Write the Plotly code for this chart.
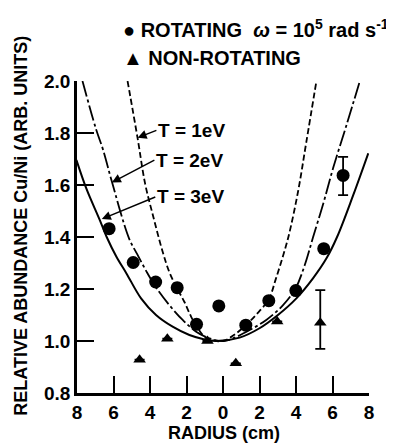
import plotly.graph_objects as go

# ---- data ----
rot_r = [-6.24, -4.92, -3.69, -2.51, -1.45, -0.23, 1.25, 2.51, 3.99, 5.52, 6.58]
rot_v = [1.432, 1.302, 1.227, 1.205, 1.064, 1.135, 1.061, 1.155, 1.194, 1.355, 1.637]
rot_err_plus = [0, 0, 0, 0, 0, 0, 0, 0, 0, 0, 0.071]
rot_err_minus = [0, 0, 0, 0, 0, 0, 0, 0, 0, 0, 0.076]

non_r = [-4.57, -3.05, -0.85, 0.70, 2.97, 5.33]
non_v = [0.928, 1.009, 1.0, 0.914, 1.075, 1.07]
non_err_plus = [0, 0, 0, 0, 0, 0.126]
non_err_minus = [0, 0, 0, 0, 0, 0.100]

t1_r = [-5.23, -4.68, -4.27, -3.82, -3.31, -2.94, -2.54, -2.12, -1.75, -1.38, -1.02, -0.56, 0.0,
        0.54, 1.24, 1.8, 2.5, 2.9, 3.3, 3.6, 4.11, 4.57, 5.12]
t1_v = [2.0, 1.78, 1.606, 1.478, 1.344, 1.265, 1.205, 1.151, 1.094, 1.049, 1.017, 1.003, 1.0,
        1.02, 1.06, 1.10, 1.16, 1.24, 1.33, 1.405, 1.574, 1.767, 2.0]

t2_r = [-7.70, -6.97, -6.57, -6.09, -5.15, -4.68, -4.19, -3.64, -2.94, -2.21, -1.47, -0.74, 0.0,
        0.54, 1.46, 2.37, 3.29, 3.98, 4.48, 4.93, 5.5, 6.03, 6.77, 7.5]
t2_v = [2.0, 1.818, 1.735, 1.613, 1.395, 1.331, 1.267, 1.203, 1.138, 1.081, 1.036, 1.010, 1.0,
        1.010, 1.042, 1.081, 1.138, 1.203, 1.292, 1.398, 1.53, 1.664, 1.831, 2.0]

t3_r = [-8.03, -7.48, -6.75, -6.38, -5.84, -5.29, -4.49, -3.67, -2.76, -1.84, -1.11, -0.37,
        0.91, 2.0, 3.01, 4.02, 4.93, 5.67, 6.25, 7.13, 7.96]
t3_v = [1.696, 1.585, 1.465, 1.401, 1.324, 1.26, 1.164, 1.100, 1.055, 1.023, 1.008, 1.0,
        1.013, 1.049, 1.100, 1.164, 1.241, 1.318, 1.40, 1.56, 1.722]

x_ticks = [-8, -6, -4, -2, 0, 2, 4, 6, 8]
x_tick_text = ["8", "6", "4", "2", "0", "2", "4", "6", "8"]
y_ticks = [0.8, 1.0, 1.2, 1.4, 1.6, 1.8, 2.0]
y_tick_text = ["0.8", "1.0", "1.2", "1.4", "1.6", "1.8", "2.0"]

curve_labels = ["T = 1eV", "T = 2eV", "T = 3eV"]
label_tip = [(-4.68, 1.782), (-6.09, 1.61), (-6.64, 1.469)]
label_tail = [(-3.65, 1.81), (-3.76, 1.696), (-3.71, 1.554)]

FONT = "Liberation Sans"
fig = go.Figure()

fig.add_trace(go.Scatter(x=t1_r, y=t1_v, mode="lines",
                         line=dict(color="black", width=1.8, dash="6px,3px", shape="spline"),
                         showlegend=False, hoverinfo="skip"))
fig.add_trace(go.Scatter(x=t2_r, y=t2_v, mode="lines",
                         line=dict(color="black", width=1.8, dash="16px,3px,3px,3px", shape="spline"),
                         showlegend=False, hoverinfo="skip"))
fig.add_trace(go.Scatter(x=t3_r, y=t3_v, mode="lines",
                         line=dict(color="black", width=2, shape="spline"),
                         showlegend=False, hoverinfo="skip"))

fig.add_trace(go.Scatter(x=rot_r, y=rot_v, mode="markers",
                         marker=dict(symbol="circle", size=13, color="black"),
                         error_y=dict(type="data", symmetric=False, array=rot_err_plus, arrayminus=rot_err_minus,
                                      color="black", thickness=1.8, width=5),
                         showlegend=False))
fig.add_trace(go.Scatter(x=non_r, y=non_v, mode="markers",
                         marker=dict(symbol="triangle-up", size=11, color="black"),
                         error_y=dict(type="data", symmetric=False, array=non_err_plus, arrayminus=non_err_minus,
                                      color="black", thickness=1.8, width=5),
                         showlegend=False))

tickfont = dict(family=FONT, size=19, color="black", weight="bold")
fig.update_xaxes(range=[-8, 8], tickvals=x_ticks, ticktext=x_tick_text, ticks="inside", ticklen=17, tickwidth=2,
                 tickcolor="black", showline=True, linewidth=2.5, linecolor="black", showgrid=False, zeroline=False,
                 tickfont=tickfont)
fig.update_yaxes(range=[0.8, 2.0], tickvals=y_ticks, ticktext=y_tick_text, ticks="inside", ticklen=17, tickwidth=2,
                 tickcolor="black", showline=True, linewidth=2.5, linecolor="black", showgrid=False, zeroline=False,
                 tickfont=tickfont)

annotations = [
    dict(text="RELATIVE ABUNDANCE Cu/Ni (ARB. UNITS)", xref="paper", yref="paper", x=-0.193, y=0.535,
         textangle=-90, showarrow=False, font=dict(family=FONT, size=18, color="black", weight="bold"),
         xanchor="center", yanchor="middle"),
    dict(text="RADIUS (cm)", xref="paper", yref="paper", x=0.503, y=-0.128, showarrow=False,
         font=dict(family=FONT, size=18, color="black", weight="bold"), xanchor="center", yanchor="middle"),
    dict(text="● ROTATING  <i>ω</i> = 10<sup>5</sup> rad s<sup>-1</sup>", xref="paper", yref="paper",
         x=0.150, y=1.167, showarrow=False, font=dict(family=FONT, size=20, color="black", weight="bold"),
         xanchor="left", yanchor="middle"),
    dict(text="▲ NON-ROTATING", xref="paper", yref="paper", x=0.150, y=1.074,
         showarrow=False, font=dict(family=FONT, size=20, color="black", weight="bold"),
         xanchor="left", yanchor="middle"),
]
for txt, (tx, ty), (sx, sy) in zip(curve_labels, label_tip, label_tail):
    annotations.append(dict(text=txt, x=tx, y=ty, ax=sx, ay=sy, xref="x", yref="y", axref="x", ayref="y",
                            xanchor="left", yanchor="middle",
                            font=dict(family=FONT, size=19, color="black", weight="bold"),
                            showarrow=True, arrowhead=2, arrowsize=1.2, arrowwidth=1.5, arrowcolor="black"))

# the page adds an 8px body margin, so the figure is sized to fill the remaining window
fig.update_layout(width=386, height=436, margin=dict(l=69, r=25, t=73, b=51),
                  plot_bgcolor="white", paper_bgcolor="white", annotations=annotations, showlegend=False)

fig.write_html("out.html")
